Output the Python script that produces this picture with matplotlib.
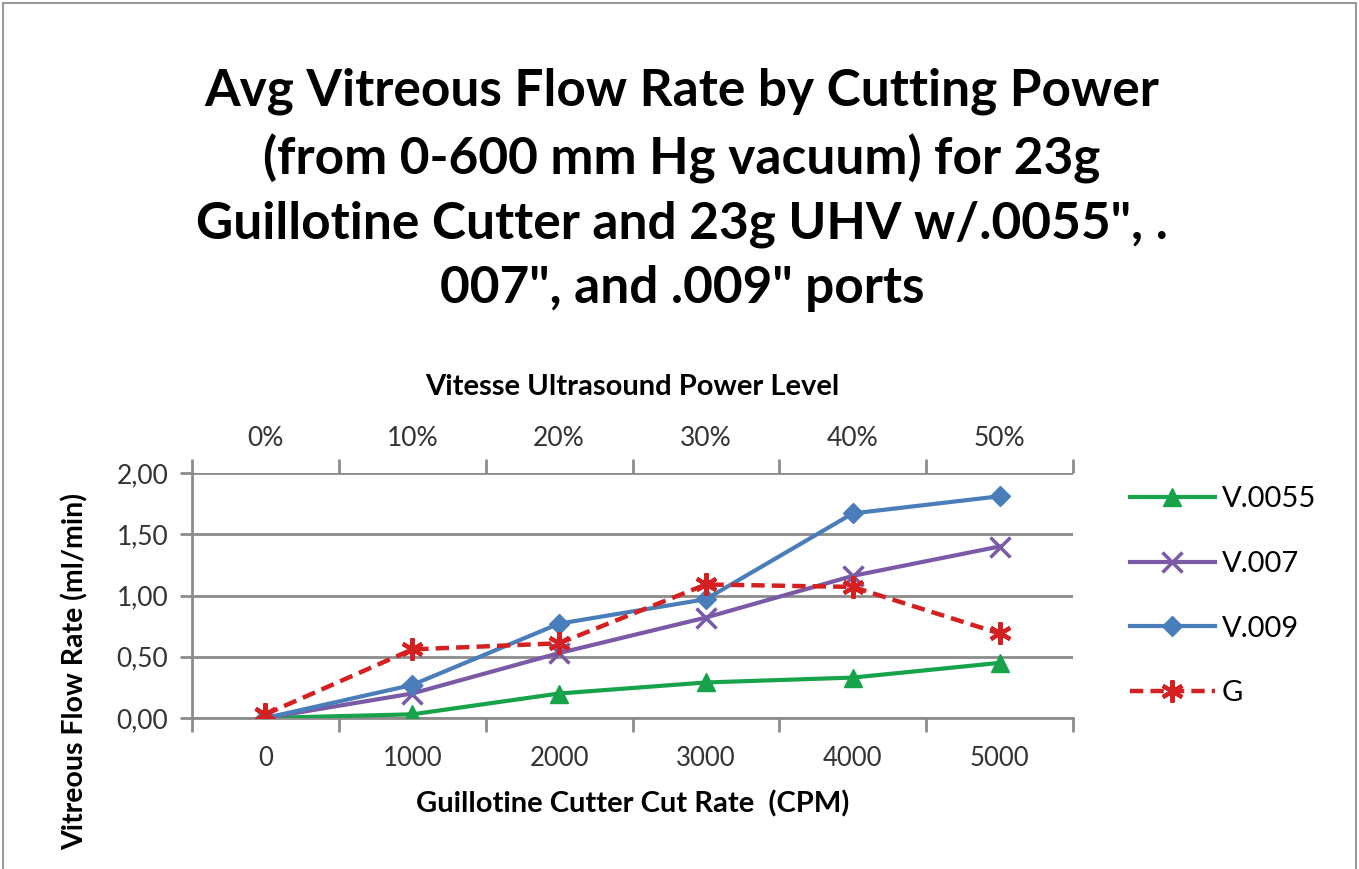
import numpy as np
import matplotlib
matplotlib.use('Agg')
import matplotlib.pyplot as plt
from matplotlib.ticker import FuncFormatter
from matplotlib.patches import Rectangle

# data
cut_rates = ['0', '1000', '2000', '3000', '4000', '5000']
power_levels = ['0%', '10%', '20%', '30%', '40%', '50%']
v0055 = [0.00, 0.03, 0.20, 0.29, 0.33, 0.45]
v007 = [0.00, 0.20, 0.53, 0.82, 1.16, 1.40]
v009 = [0.00, 0.27, 0.77, 0.97, 1.67, 1.81]
g_cut = [0.03, 0.56, 0.61, 1.09, 1.07, 0.69]

title = ('Avg Vitreous Flow Rate by Cutting Power\n'
         '(from 0-600 mm Hg vacuum) for 23g\n'
         'Guillotine Cutter and 23g UHV w/.0055", .\n'
         '007", and .009" ports')

plt.rcParams['font.family'] = ['Lato', 'DejaVu Sans']

W, H = 1359, 869
fig = plt.figure(figsize=(W/100, H/100), dpi=100)
fig.patches.append(Rectangle((0.002, -0.01), 0.996, 1.007, transform=fig.transFigure,
                             fill=False, ec='#9a9a9a', lw=1.5))

ax = fig.add_axes([192/W, 1-718/H, (1073-192)/W, (718-473)/H])
x = np.arange(len(cut_rates))
grid_c = '#8c8c8c'

ax.plot(x, v0055, color='#16a34a', lw=3, marker='^', ms=13, label='V.0055', zorder=3)
ax.plot(x, v007, color='#7a5aa6', lw=3, marker='x', ms=14, mew=2.5, label='V.007', zorder=3)
ax.plot(x, v009, color='#4a7ebb', lw=3, marker='D', ms=10, label='V.009', zorder=4)
ax.plot(x, g_cut, color='#d42020', lw=3.2, ls=(0, (3, 1.6)), marker=(6, 2, 0), ms=16, mew=3,
        label='G', zorder=5)

ax.set_xlim(-0.5, 5.5)
ax.set_ylim(0, 2.0)
ax.set_yticks([0, 0.5, 1.0, 1.5, 2.0])
ax.yaxis.set_major_formatter(FuncFormatter(lambda v, p: f'{v:.2f}'.replace('.', ',')))
ax.grid(axis='y', color=grid_c, lw=2)
ax.set_axisbelow(True)
for s in ['top', 'right']:
    ax.spines[s].set_visible(False)
for s in ['left', 'bottom']:
    ax.spines[s].set_color(grid_c)
    ax.spines[s].set_linewidth(2)

# category labels centred, tick marks at category boundaries
ax.set_xticks(np.arange(-0.5, 6.0, 1.0))
ax.set_xticklabels([])
ax.set_xticks(x, minor=True)
ax.set_xticklabels(cut_rates, minor=True)
ax.tick_params(axis='x', which='major', length=10, width=2, color=grid_c, direction='out')
ax.tick_params(axis='x', which='minor', length=0, labelsize=18.5, pad=20, colors='#333333')
ax.tick_params(axis='y', length=9, width=2, color=grid_c, labelsize=19, pad=8, labelcolor='#333333')
ax.set_xlabel('Guillotine Cutter Cut Rate  (CPM)', fontsize=21, fontweight='bold', labelpad=14)

top = ax.twiny()
top.set_xlim(ax.get_xlim())
for s in ['top', 'right', 'left', 'bottom']:
    top.spines[s].set_visible(False)
top.set_xticks(np.arange(-0.5, 6.0, 1.0))
top.set_xticklabels([])
top.set_xticks(x, minor=True)
top.set_xticklabels(power_levels, minor=True)
top.tick_params(axis='x', which='major', length=10, width=2, color=grid_c, direction='out')
top.tick_params(axis='x', which='minor', length=0, labelsize=19, pad=16, colors='#333333')
top.set_xlabel('Vitesse Ultrasound Power Level', fontsize=21, fontweight='bold', labelpad=22)

fig.text(75/W, 1-672/H, 'Vitreous Flow Rate (ml/min)', rotation=90, fontsize=20.5,
         fontweight='bold', ha='center', va='center')

fig.text(682/W, 1-190/H, title, fontsize=37, fontweight='bold', ha='center', va='center',
         linespacing=1.45)

fig.legend(loc='upper left', bbox_to_anchor=(1130/W, 1-486/H), bbox_transform=fig.transFigure,
           frameon=False, fontsize=21, handlelength=2.9, handletextpad=0.25,
           labelspacing=1.33, borderpad=0, borderaxespad=0)

fig.savefig('out.png', dpi=100)
